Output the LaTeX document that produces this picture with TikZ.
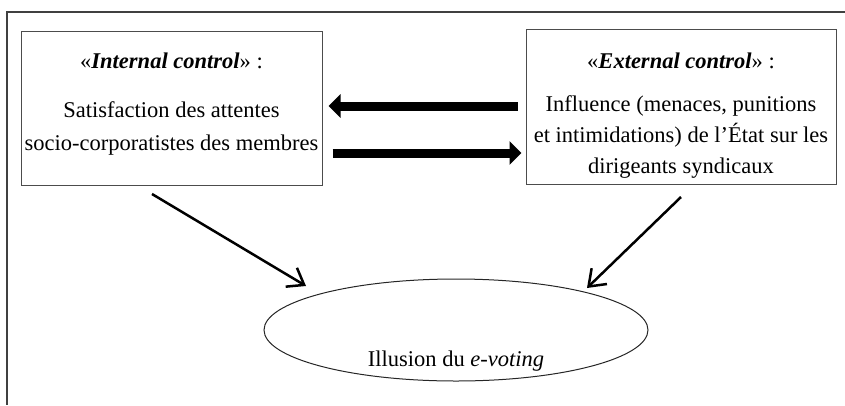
\documentclass[tikz,border=0pt]{standalone}
\usepackage{fontspec}
\setmainfont{Liberation Serif}
\usetikzlibrary{arrows.meta,shapes.geometric}
\tikzset{
  boxnode/.style={draw=black!70,line width=1pt,inner sep=0pt},
  txt/.style={font=\fontsize{22.5}{32}\selectfont,align=center,inner sep=0pt},
  fatarrow/.style={line width=9pt,-{Triangle[width=23pt,length=12pt]}},
  thinarrow/.style={line width=2.5pt,-{Straight Barb[length=15pt,width=22pt]}},
  framestyle/.style={draw=black!75,line width=1.2pt}
}
\begin{document}
\begin{tikzpicture}[x=1pt,y=-1pt]
\useasboundingbox (0,0) rectangle (845,405);
% outer frame (top and left only)
\coordinate (ftr) at (845,12);
\coordinate (ftl) at (7,12);
\coordinate (fbl) at (7,405);
\draw[framestyle] (ftr) -- (ftl) -- (fbl);

% boxes
\node[boxnode,minimum width=301pt,minimum height=154pt] (L) at (171.5,108) {};
\node[boxnode,minimum width=310pt,minimum height=155pt] (R) at (681,106.5) {};

% texts
\node[txt] (Lt) at (171.5,61) {«\textbf{\textit{Internal control}}» :};
\node[txt,font=\fontsize{22.5}{33}\selectfont] (Lb) at (171.5,128) {Satisfaction des attentes\\socio-corporatistes des membres};
\node[txt] (Rt) at (681,61) {«\textbf{\textit{External control}}» :};
\node[txt,font=\fontsize{22.5}{31}\selectfont] (Rb) at (681,137) {Influence (menaces, punitions\\et intimidations) de l’État sur les\\dirigeants syndicaux};

% ellipse
\node[ellipse,draw=black!85,line width=1pt,minimum width=384pt,minimum height=102pt,inner sep=0pt] (E) at (456,330) {};
\node[txt] (Et) at (456,361) {Illusion du \textit{e-voting}};

% thick arrows between boxes
\draw[fatarrow] ([xshift=-8pt,yshift=0.5pt]R.west) -- ([xshift=6pt,yshift=2pt]L.east);
\draw[fatarrow] ([xshift=10pt,yshift=-45pt]L.east) -- ([xshift=-4pt,yshift=-46.5pt]R.west);

% diagonal arrows to the ellipse
\coordinate (ls) at (152,194);
\coordinate (le) at (306,286);
\coordinate (rs) at (681,197);
\coordinate (re) at (587,288);
\draw[thinarrow] (ls) -- (le);
\draw[thinarrow] (rs) -- (re);
\end{tikzpicture}
\end{document}
